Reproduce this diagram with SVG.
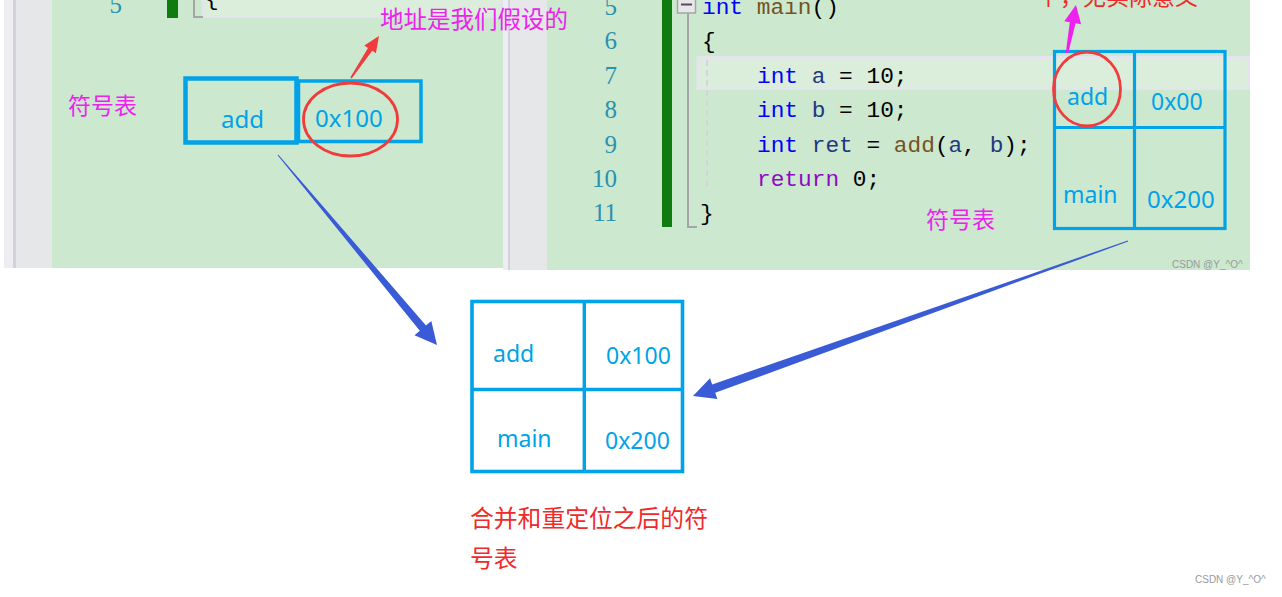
<svg xmlns="http://www.w3.org/2000/svg" width="1282" height="597" viewBox="0 0 1282 597">
<style>
.bg{fill:#ffffff}
.green{fill:#cce8cf}
.gutter{fill:#e6e7e9}
.strip{fill:#eeeef2}
.sep{fill:#d2d2dc}
.hl{fill:#dbeedb;stroke:#e4e4ec;stroke-width:3}
.ln{font-family:"Liberation Serif",serif;font-size:25px;fill:#2b91af;text-anchor:end}
.code{font-family:"Liberation Mono",monospace;font-size:22.8px;fill:#000000}
.kw{fill:#0000ff}
.fn{fill:#74531f}
.var{fill:#1f377f}
.ret{fill:#8f08c4}
.tbl{fill:none;stroke:#00a2e8}
.tt{font-family:"Noto Sans","Open Sans",sans-serif;fill:#00a2e8}
.mag{font-family:"Noto Sans CJK SC",sans-serif;fill:#ee22ee}
.red{font-family:"Noto Sans CJK SC",sans-serif;fill:#f02a2a}
.ring{fill:none;stroke:#f03c3c;stroke-width:2.8}
.wm{font-family:"Liberation Sans",sans-serif;font-size:10px;fill:#9a9a9a}
.blue{fill:#3a5bd6}
</style>
<rect class="bg" x="0" y="0" width="1282" height="597"/>

<g id="left-panel">
  <rect class="strip" x="4" y="0" width="10" height="268"/>
  <rect class="sep" x="13" y="0" width="3" height="268"/>
  <rect class="gutter" x="16" y="0" width="36" height="268"/>
  <rect class="green" x="52" y="0" width="451" height="268"/>
  <rect x="203" y="-3" width="298.5" height="19.5" class="hl"/>
  <text class="ln" x="122" y="13">5</text>
  <rect x="167" y="0" width="11" height="18" fill="#107c10"/>
  <path d="M194,0 V17 H203" fill="none" stroke="#a5a5a5" stroke-width="2"/>
  <text class="code" x="205" y="5">{</text>
</g>

<g id="right-panel">
  <rect class="strip" x="503" y="0" width="5" height="270"/>
  <rect class="sep" x="508" y="0" width="2" height="270"/>
  <rect class="gutter" x="510" y="0" width="37" height="270"/>
  <rect class="green" x="547" y="0" width="703" height="270"/>
  <rect x="698" y="57.5" width="550.5" height="31" class="hl"/>
  <rect x="662" y="0" width="10" height="227" fill="#107c10"/>
  <path d="M688,13 V227 H697" fill="none" stroke="#a5a5a5" stroke-width="2"/>
  <rect x="677.5" y="-3" width="18" height="16" fill="#e8e8ec" stroke="#a5a5a5" stroke-width="1.5"/>
  <line x1="681" y1="4.5" x2="692" y2="4.5" stroke="#505050" stroke-width="2"/>
  <line x1="707" y1="60" x2="707" y2="190" stroke="#d4d4dc" stroke-width="2" stroke-dasharray="6,4"/>
  <text class="ln" x="617" y="15">5</text>
  <text class="ln" x="617" y="49.4">6</text>
  <text class="ln" x="617" y="83.8">7</text>
  <text class="ln" x="617" y="118.2">8</text>
  <text class="ln" x="617" y="152.6">9</text>
  <text class="ln" x="617" y="187">10</text>
  <text class="ln" x="617" y="221.4">11</text>
  <text class="code" x="702" y="14"><tspan class="kw">int</tspan> <tspan class="fn">main</tspan>()</text>
  <text class="code" x="702" y="48.4">{</text>
  <text class="code" x="757" y="82.8"><tspan class="kw">int</tspan> <tspan class="var">a</tspan> = 10;</text>
  <text class="code" x="757" y="117.2"><tspan class="kw">int</tspan> <tspan class="var">b</tspan> = 10;</text>
  <text class="code" x="757" y="151.6"><tspan class="kw">int</tspan> <tspan class="var">ret</tspan> = <tspan class="fn">add</tspan>(<tspan class="var">a</tspan>, <tspan class="var">b</tspan>);</text>
  <text class="code" x="757" y="186"><tspan class="ret">return</tspan> 0;</text>
  <text class="code" x="700" y="220.4">}</text>
  <text class="wm" x="1172" y="268">CSDN @Y_^O^</text>
</g>

<g id="left-table">
  <rect class="tbl" x="298.5" y="81" width="122.5" height="60.5" stroke-width="3.5"/>
  <rect class="tbl" x="185.5" y="78.5" width="111" height="64" stroke-width="4.5"/>
  <text class="tt" x="221" y="128" font-size="24">add</text>
  <text class="tt" x="315" y="127" font-size="24">0x100</text>
  <ellipse class="ring" cx="350.5" cy="119.5" rx="47" ry="36.5"/>
</g>

<g id="left-label">
  <text class="mag" x="68" y="114" font-size="23">符号表</text>
</g>

<g id="left-note">
  <text class="mag" x="380" y="28" font-size="23.5">地址是我们假设的</text>
</g>

<g id="right-table">
  <rect class="tbl" x="1054.5" y="51.5" width="170.5" height="177" stroke-width="3.2"/>
  <line class="tbl" x1="1134.5" y1="51.5" x2="1134.5" y2="228.5" stroke-width="3.2"/>
  <line class="tbl" x1="1054.5" y1="127.5" x2="1225" y2="127.5" stroke-width="3.2"/>
  <text class="tt" x="1067" y="105" font-size="23">add</text>
  <text class="tt" x="1151" y="110" font-size="23">0x00</text>
  <text class="tt" x="1063" y="203" font-size="23">main</text>
  <text class="tt" x="1147" y="208" font-size="24">0x200</text>
  <ellipse class="ring" cx="1087" cy="89" rx="33.5" ry="37"/>
</g>

<g id="right-label">
  <text class="mag" x="926" y="228" font-size="23">符号表</text>
</g>

<g id="right-note">
  <text class="red" x="1037" y="5" font-size="23">个，无实际意义</text>
</g>

<g id="merged-table">
  <rect class="tbl" x="472" y="301.5" width="210.5" height="170" stroke-width="3.6"/>
  <line class="tbl" x1="584.3" y1="301.5" x2="584.3" y2="471.5" stroke-width="3.4"/>
  <line class="tbl" x1="472" y1="389.5" x2="682.5" y2="389.5" stroke-width="3.4"/>
  <text class="tt" x="493" y="362" font-size="23">add</text>
  <text class="tt" x="606" y="364" font-size="23">0x100</text>
  <text class="tt" x="497" y="447" font-size="23">main</text>
  <text class="tt" x="605" y="449" font-size="23">0x200</text>
</g>

<g id="merged-caption">
  <text class="red" x="470" y="527" font-size="23.8">合并和重定位之后的符</text>
  <text class="red" x="470" y="567" font-size="23.8">号表</text>
</g>

<g id="connectors">
  <polygon class="blue" points="278.4,154.7 426.0,325.5 431.3,321.0 437,345 414.5,335.2 419.8,330.7 277.6,155.3"/>
  <polygon class="blue" points="1127.8,240.5 712.2,384.4 710.0,378.2 693,396 717.4,399.0 715.2,392.8 1128.2,241.5"/>
  <polygon fill="#f03c3c" points="350.3,77.6 368.0,47.9 364.3,45.4 379,36 375.9,53.2 372.2,50.7 351.7,78.4"/>
  <polygon fill="#ee22ee" points="1065.8,52.8 1069.8,22.2 1064.3,21.2 1076,5 1081.1,24.2 1075.6,23.2 1068.2,53.2"/>
</g>

<text class="wm" x="1195" y="583">CSDN @Y_^O^</text>
</svg>
